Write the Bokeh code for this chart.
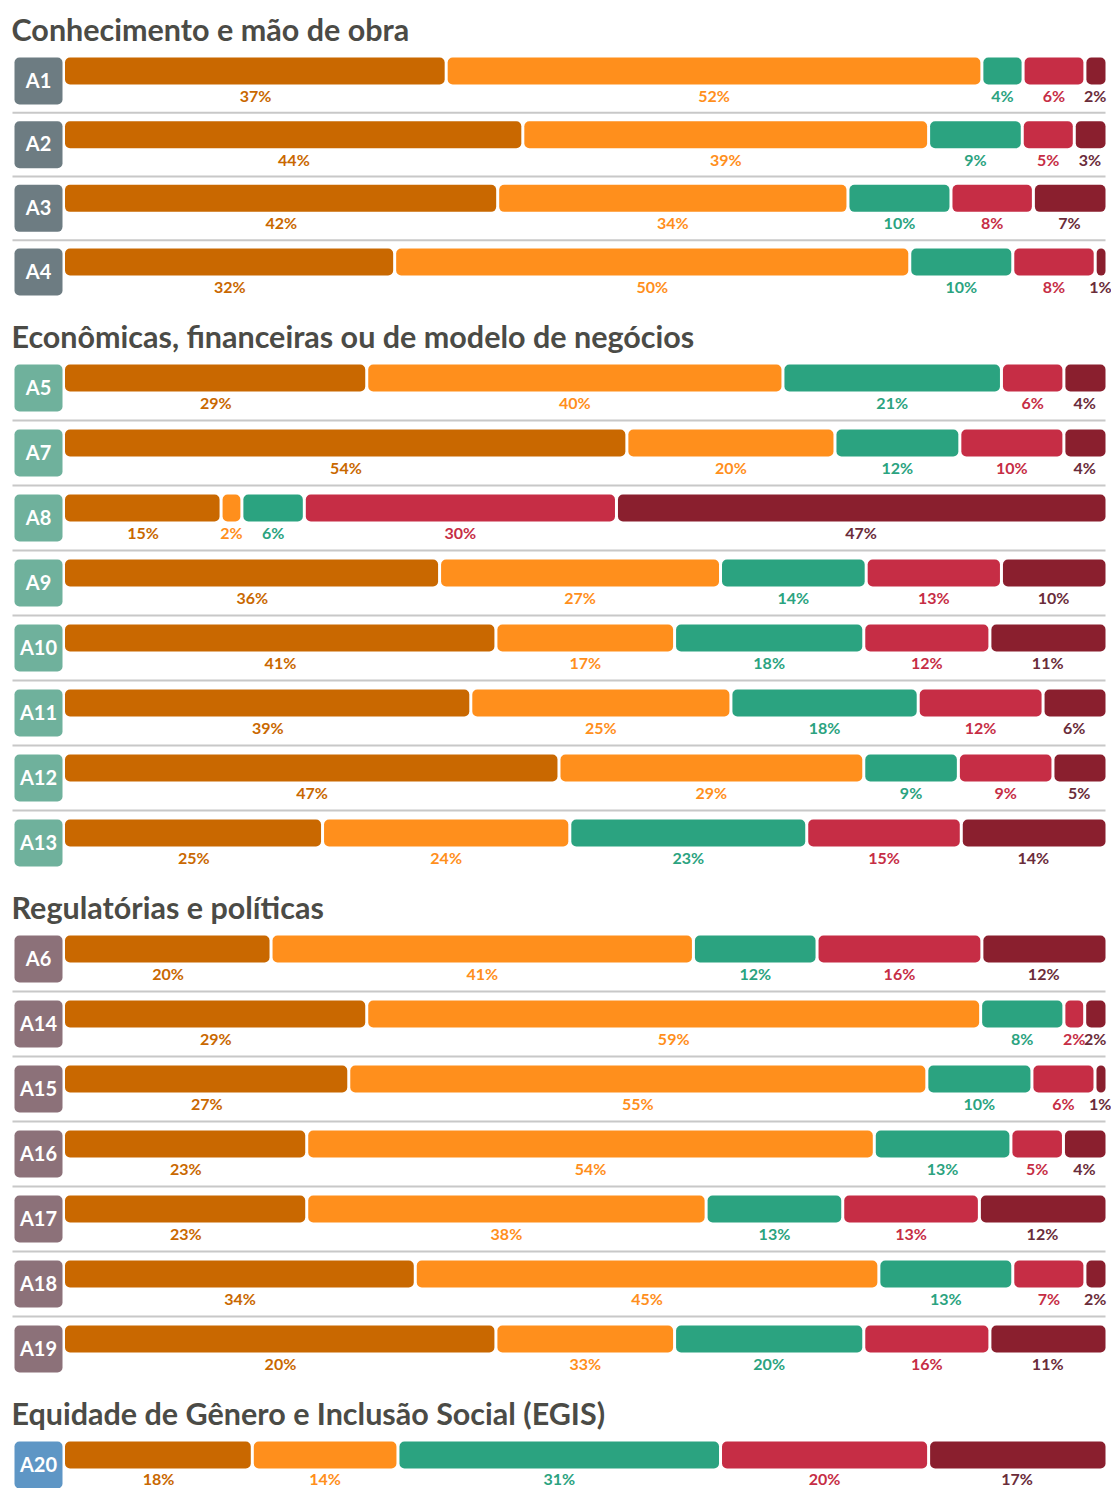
from bokeh.plotting import figure
from bokeh.models import ColumnDataSource, Range1d
from bokeh.core.properties import value
from bokeh.embed import file_html
from bokeh.resources import INLINE

# ---------------- data ----------------
section_titles = [
    "Conhecimento e mão de obra",
    "Econômicas, financeiras ou de modelo de negócios",
    "Regulatórias e políticas",
    "Equidade de Gênero e Inclusão Social (EGIS)",
]
section_items = [
    ["A1", "A2", "A3", "A4"],
    ["A5", "A7", "A8", "A9", "A10", "A11", "A12", "A13"],
    ["A6", "A14", "A15", "A16", "A17", "A18", "A19"],
    ["A20"],
]
# percentage labels, one list per response level (rows in order A1..A20 as listed above)
level1 = [37, 44, 42, 32, 29, 54, 15, 36, 41, 39, 47, 25, 20, 29, 27, 23, 23, 34, 20, 18]
level2 = [52, 39, 34, 50, 40, 20, 2, 27, 17, 25, 29, 24, 41, 59, 55, 54, 38, 45, 33, 14]
level3 = [4, 9, 10, 10, 21, 12, 6, 14, 18, 18, 9, 23, 12, 8, 10, 13, 13, 13, 20, 31]
level4 = [6, 5, 8, 8, 6, 10, 30, 13, 12, 12, 9, 15, 16, 2, 6, 5, 13, 7, 16, 20]
level5 = [2, 3, 7, 1, 4, 4, 47, 10, 11, 6, 5, 14, 12, 2, 1, 4, 12, 2, 11, 17]
# the A19 bar is drawn with lengths that differ from its printed labels
a19_drawn = [41, 17, 18, 12, 11]

# ---------------- styles ----------------
bar_colors = ["#C96800", "#FF8F1C", "#2BA380", "#C62D45", "#8A1F2E"]
label_colors = ["#C96800", "#FF8F1C", "#2BA380", "#C62D45", "#6A2C3A"]
box_colors = ["#6D7C82", "#6FB19C", "#8C7179", "#5E96C5"]
title_color = "#4B4B46"
FONT = "Lato"

W, H = 1111, 1488
BAR_L, BAR_R = 64.5, 1105.0
scale = (BAR_R - BAR_L) / 100.0
TXT_SHIFT = 8     # text renders lower than its anchor; compensate
TITLE_SHIFT = 12  # same compensation for the larger title font


def px(sx):
    return (sx - BAR_L) / scale


gap = 3.0 / scale

p = figure(width=W, height=H,
           x_range=Range1d(px(0), px(W)),
           y_range=Range1d(-H, 0),
           x_axis_type=None, y_axis_type=None,
           toolbar_location=None, output_backend="svg",
           min_border=0)
p.outline_line_color = None
p.grid.visible = False
p.background_fill_color = "white"
p.border_fill_color = "white"

levels = [level1, level2, level3, level4, level5]

bars = dict(left=[], right=[], top=[], bottom=[], color=[])
labs = dict(x=[], y=[], text=[], color=[])
boxes = dict(left=[], right=[], top=[], bottom=[], color=[])
boxlab = dict(x=[], y=[], text=[])
seps = dict(x0=[], x1=[], y0=[], y1=[])
titles = dict(x=[], y=[], text=[])

pitches = [63.67, 65, 65, 65]
baseline = 40.0
row_index = 0
for s, (title, items) in enumerate(zip(section_titles, section_items)):
    titles["x"].append(px(11))
    titles["y"].append(-(baseline - TITLE_SHIFT))
    titles["text"].append(title)
    top0 = baseline + 17
    t = top0
    for i, name in enumerate(items):
        t = top0 + i * pitches[s]
        vals = [lv[row_index] for lv in levels]
        drawn = a19_drawn if name == "A19" else vals
        total = float(sum(drawn))
        cum = 0.0
        lab_base = min(t + 46, H - 2) - TXT_SHIFT
        for k in range(5):
            w = drawn[k] / total * 100.0
            l = cum + (gap / 2 if k > 0 else 0)
            r = cum + w - (gap / 2 if k < 4 else 0)
            bars["left"].append(l)
            bars["right"].append(r)
            bars["top"].append(-t)
            bars["bottom"].append(-(t + 27))
            bars["color"].append(bar_colors[k])
            labs["x"].append(cum + w / 2)
            labs["y"].append(-lab_base)
            labs["text"].append(f"{vals[k]}%")
            labs["color"].append(label_colors[k])
            cum += w
        boxes["left"].append(px(14))
        boxes["right"].append(px(62))
        boxes["top"].append(-t)
        boxes["bottom"].append(-(t + 47))
        boxes["color"].append(box_colors[s])
        boxlab["x"].append(px(38))
        boxlab["y"].append(-(t + 30 - TXT_SHIFT))
        boxlab["text"].append(name)
        if i < len(items) - 1:
            ys = -(t + (47 + pitches[s]) / 2)
            seps["x0"].append(px(12))
            seps["x1"].append(px(1105))
            seps["y0"].append(ys)
            seps["y1"].append(ys)
        row_index += 1
    baseline = t + 99

p.segment(x0="x0", x1="x1", y0="y0", y1="y1", source=ColumnDataSource(seps),
          line_color="#C8C8C8", line_width=2)
p.quad(left="left", right="right", top="top", bottom="bottom",
       source=ColumnDataSource(bars), fill_color="color", line_color=None,
       border_radius=5)
p.quad(left="left", right="right", top="top", bottom="bottom",
       source=ColumnDataSource(boxes), fill_color="color", line_color=None,
       border_radius=5)
p.text(x="x", y="y", text="text", source=ColumnDataSource(labs),
       text_color="color", text_font=value(FONT), text_font_style="bold",
       text_font_size="16px", text_align="center", text_baseline="alphabetic")
p.text(x="x", y="y", text="text", source=ColumnDataSource(boxlab),
       text_color="white", text_font=value(FONT), text_font_style="bold",
       text_font_size="20px", text_align="center", text_baseline="alphabetic")
p.text(x="x", y="y", text="text", source=ColumnDataSource(titles),
       text_color=title_color, text_font=value(FONT), text_font_style="bold",
       text_font_size="30.5px", text_align="left", text_baseline="alphabetic")

open("out.html", "w").write(file_html(p, INLINE))
